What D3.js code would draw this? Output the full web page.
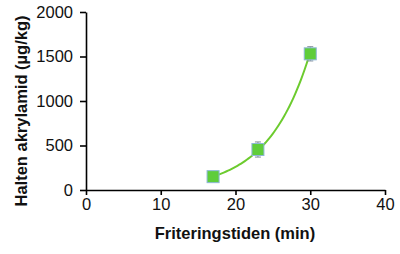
<!DOCTYPE html>
<html>
<head>
<meta charset="utf-8">
<script src="https://cdn.jsdelivr.net/npm/d3@7"></script>
<style>
  body { margin: 0; background: #fff; }
  text { font-family: "Liberation Sans", Arial, sans-serif; fill: #000; }
  .axis path, .axis line { stroke: #000; stroke-width: 1.6; }
  .axis text { font-size: 16.5px; fill: #111; }
  .title { font-weight: bold; fill: #111; }
</style>
</head>
<body>
<div id="chart"></div>
<script>
// data
var minutes = [17, 23, 30];
var acrylamide = [150, 455, 1530];
var errors = [20, 85, 80];
var xTicks = [0, 10, 20, 30, 40];
var yTicks = [0, 500, 1000, 1500, 2000];

var width = 400, height = 254;
var svg = d3.select('#chart').append('svg')
	.attr('width', width).attr('height', height);

var x = d3.scaleLinear().domain([0, 40]).range([86, 385]);
var y = d3.scaleLinear().domain([0, 2000]).range([190, 12]);

var pts = minutes.map(function(m, i) {
	return {x: m, y: acrylamide[i], e: errors[i]};
});

// axes
svg.append('g')
	.attr('class', 'axis')
	.attr('transform', 'translate(0,' + y(0) + ')')
	.call(d3.axisBottom(x).tickValues(xTicks).tickSize(5).tickPadding(3).tickSizeOuter(0));

svg.append('g')
	.attr('class', 'axis')
	.attr('transform', 'translate(' + x(0) + ',0)')
	.call(d3.axisLeft(y).tickValues(yTicks).tickFormat(d3.format('d'))
		.tickSize(6).tickPadding(7).tickSizeOuter(0));

// exponential trendline (least squares on ln y, like the spreadsheet does)
var lnMean = d3.mean(pts, function(d) { return Math.log(d.y); });
var xMean = d3.mean(pts, function(d) { return d.x; });
var b = d3.sum(pts, function(d) { return (d.x - xMean) * (Math.log(d.y) - lnMean); }) /
	d3.sum(pts, function(d) { return (d.x - xMean) * (d.x - xMean); });
var a = Math.exp(lnMean - b * xMean);
var trend = d3.range(minutes[0], minutes[2] + 0.01, 0.25).map(function(t) {
	return {x: t, y: a * Math.exp(b * t)};
});

var line = d3.line()
	.x(function(d) { return x(d.x); })
	.y(function(d) { return y(d.y); });

svg.append('path')
	.datum(trend)
	.attr('d', line)
	.attr('fill', 'none')
	.attr('stroke', '#6ccb2e')
	.attr('stroke-width', 2);

// error bars
var eb = svg.selectAll('.err').data(pts).enter().append('g')
	.attr('stroke', '#7f8c99').attr('stroke-width', 1);
eb.append('line')
	.attr('x1', function(d) { return x(d.x); })
	.attr('x2', function(d) { return x(d.x); })
	.attr('y1', function(d) { return y(d.y + d.e); })
	.attr('y2', function(d) { return y(d.y - d.e); });
eb.append('line')
	.attr('x1', function(d) { return x(d.x) - 3; })
	.attr('x2', function(d) { return x(d.x) + 3; })
	.attr('y1', function(d) { return y(d.y + d.e); })
	.attr('y2', function(d) { return y(d.y + d.e); });
eb.append('line')
	.attr('x1', function(d) { return x(d.x) - 3; })
	.attr('x2', function(d) { return x(d.x) + 3; })
	.attr('y1', function(d) { return y(d.y - d.e); })
	.attr('y2', function(d) { return y(d.y - d.e); });

// markers
var s = 12;
svg.selectAll('.mk').data(pts).enter().append('rect')
	.attr('x', function(d) { return x(d.x) - s / 2; })
	.attr('y', function(d) { return y(d.y) - s / 2; })
	.attr('width', s).attr('height', s)
	.attr('fill', '#5fcd3a')
	.attr('stroke', '#8db7d6')
	.attr('stroke-width', 1);

// titles
svg.append('text')
	.attr('class', 'title')
	.attr('text-anchor', 'middle')
	.style('font-size', '16.5px')
	.attr('x', 235).attr('y', 239)
	.text('Friteringstiden (min)');

svg.append('text')
	.attr('class', 'title')
	.attr('text-anchor', 'middle')
	.style('font-size', '16.5px')
	.attr('transform', 'translate(27,111) rotate(-90)')
	.text('Halten akrylamid (µg/kg)');
</script>
</body>
</html>
